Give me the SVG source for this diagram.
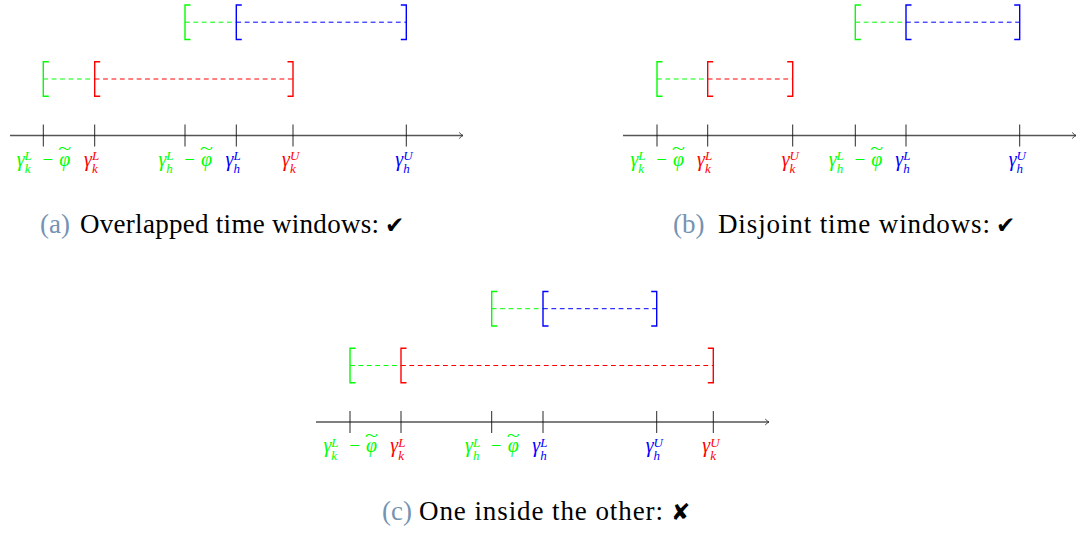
<svg xmlns="http://www.w3.org/2000/svg" xmlns:xlink="http://www.w3.org/1999/xlink" width="1080" height="534" viewBox="0 0 1080 534">
<style>
  .bk{fill:none;stroke-width:1.4}
  .ds{fill:none;stroke-width:1;stroke-dasharray:4.8 3.6}
  .gd{stroke:#00ff00}
  .rd{stroke:#ff0000}
  .bd{stroke:#0000ff}
  .tg{fill:#00ff00}
  .tr{fill:#ff0000}
  .tb{fill:#0000ff}
  .axis{stroke:#555;stroke-width:1.3;fill:none}
  .tick{stroke:#111;stroke-width:0.9}
  .lab{font-family:"Liberation Serif","DejaVu Serif",serif;font-style:italic;font-size:20px}
  .s{font-size:13px}
  .up{font-style:normal;font-size:19px}
  .mid{text-anchor:middle}
  .til{font-style:normal;font-size:16px}
  .cap{font-family:"Liberation Serif","DejaVu Serif",serif;font-size:27px;fill:#000}
  .cl{fill:#7593b2}
  .mk{font-family:"DejaVu Sans",sans-serif;font-size:23px;fill:#000}
</style>
<defs>
  <path id="lb" d="M5.5,0 H0 V34.5 H5.5" class="bk"/>
  <path id="rb" d="M-5.5,0 H0 V34.5 H-5.5" class="bk"/>
  <marker id="arr" markerWidth="8" markerHeight="8" refX="6" refY="4" orient="auto" markerUnits="userSpaceOnUse">
    <path d="M2.2,1 Q4.5,3.4 6,4 Q4.5,4.6 2.2,7" fill="none" stroke="#333" stroke-width="0.9"/>
  </marker>
</defs>

<!-- Panel (a) -->
<g id="panel-a">
  <g id="a-windows">
    <g id="a-win-h">
      <line class="ds gd" x1="185" y1="22.2" x2="236.3" y2="22.2"/>
      <line class="ds bd" x1="236.3" y1="22.2" x2="406.3" y2="22.2"/>
      <use xlink:href="#lb" x="185" y="5" stroke="#00ff00"/>
      <use xlink:href="#lb" x="236.3" y="5" stroke="#0000ff"/>
      <use xlink:href="#rb" x="406.3" y="5" stroke="#0000ff"/>
    </g>
    <g id="a-win-k">
      <line class="ds gd" x1="43.3" y1="79" x2="94.7" y2="79"/>
      <line class="ds rd" x1="94.7" y1="79" x2="293" y2="79"/>
      <use xlink:href="#lb" x="43.3" y="61.7" stroke="#00ff00"/>
      <use xlink:href="#lb" x="94.7" y="61.7" stroke="#ff0000"/>
      <use xlink:href="#rb" x="293" y="61.7" stroke="#ff0000"/>
    </g>
  </g>
  <g id="a-axis">
    <line class="axis" x1="10" y1="135.5" x2="463" y2="135.5" marker-end="url(#arr)"/>
    <g class="tick">
      <line x1="43.3" y1="124.5" x2="43.3" y2="146.5"/>
      <line x1="94.7" y1="124.5" x2="94.7" y2="146.5"/>
      <line x1="185" y1="124.5" x2="185" y2="146.5"/>
      <line x1="236.3" y1="124.5" x2="236.3" y2="146.5"/>
      <line x1="293" y1="124.5" x2="293" y2="146.5"/>
      <line x1="406.3" y1="124.5" x2="406.3" y2="146.5"/>
    </g>
  </g>
  <g id="a-labels">
    <g class="tg">
      <text class="lab" x="16.7" y="165.5">γ<tspan class="s" dy="-5.5">L</tspan><tspan class="s" dx="-7.2" dy="13">k</tspan></text>
      <text class="lab up mid" x="47.8" y="165.5">−</text>
      <text class="lab mid" x="64.8" y="165.5">φ<tspan class="til" x="64.8" y="154" textLength="13" lengthAdjust="spacingAndGlyphs">~</tspan></text>
    </g>
    <text class="lab tr" x="84" y="165.5">γ<tspan class="s" dy="-5.5">L</tspan><tspan class="s" dx="-7.2" dy="13">k</tspan></text>
    <g class="tg">
      <text class="lab" x="158.4" y="165.5">γ<tspan class="s" dy="-5.5">L</tspan><tspan class="s" dx="-7.2" dy="13">h</tspan></text>
      <text class="lab up mid" x="189.5" y="165.5">−</text>
      <text class="lab mid" x="206.5" y="165.5">φ<tspan class="til" x="206.5" y="154" textLength="13" lengthAdjust="spacingAndGlyphs">~</tspan></text>
    </g>
    <text class="lab tb" x="225.6" y="165.5">γ<tspan class="s" dy="-5.5">L</tspan><tspan class="s" dx="-7.2" dy="13">h</tspan></text>
    <text class="lab tr" x="282" y="165.5">γ<tspan class="s" dy="-5.5">U</tspan><tspan class="s" dx="-9.4" dy="13">k</tspan></text>
    <text class="lab tb" x="395.3" y="165.5">γ<tspan class="s" dy="-5.5">U</tspan><tspan class="s" dx="-9.4" dy="13">h</tspan></text>
  </g>
  <g id="a-caption">
    <text class="cap cl" x="40" y="233">(a)</text>
    <text class="cap" x="80" y="233" textLength="299" lengthAdjust="spacing">Overlapped time windows:</text>
    <text class="mk" x="385" y="233">✔</text>
  </g>
</g>

<!-- Panel (b) -->
<g id="panel-b">
  <g id="b-windows">
    <g id="b-win-h">
      <line class="ds gd" x1="855.3" y1="22.2" x2="906" y2="22.2"/>
      <line class="ds bd" x1="906" y1="22.2" x2="1019.7" y2="22.2"/>
      <use xlink:href="#lb" x="855.3" y="5" stroke="#00ff00"/>
      <use xlink:href="#lb" x="906" y="5" stroke="#0000ff"/>
      <use xlink:href="#rb" x="1019.7" y="5" stroke="#0000ff"/>
    </g>
    <g id="b-win-k">
      <line class="ds gd" x1="657" y1="79" x2="707.7" y2="79"/>
      <line class="ds rd" x1="707.7" y1="79" x2="792.7" y2="79"/>
      <use xlink:href="#lb" x="657" y="61.7" stroke="#00ff00"/>
      <use xlink:href="#lb" x="707.7" y="61.7" stroke="#ff0000"/>
      <use xlink:href="#rb" x="792.7" y="61.7" stroke="#ff0000"/>
    </g>
  </g>
  <g id="b-axis">
    <line class="axis" x1="623" y1="135.5" x2="1076" y2="135.5" marker-end="url(#arr)"/>
    <g class="tick">
      <line x1="657" y1="124.5" x2="657" y2="146.5"/>
      <line x1="707.7" y1="124.5" x2="707.7" y2="146.5"/>
      <line x1="792.7" y1="124.5" x2="792.7" y2="146.5"/>
      <line x1="855.3" y1="124.5" x2="855.3" y2="146.5"/>
      <line x1="906" y1="124.5" x2="906" y2="146.5"/>
      <line x1="1019.7" y1="124.5" x2="1019.7" y2="146.5"/>
    </g>
  </g>
  <g id="b-labels">
    <g class="tg">
      <text class="lab" x="630.4" y="165.5">γ<tspan class="s" dy="-5.5">L</tspan><tspan class="s" dx="-7.2" dy="13">k</tspan></text>
      <text class="lab up mid" x="661.5" y="165.5">−</text>
      <text class="lab mid" x="678.5" y="165.5">φ<tspan class="til" x="678.5" y="154" textLength="13" lengthAdjust="spacingAndGlyphs">~</tspan></text>
    </g>
    <text class="lab tr" x="697" y="165.5">γ<tspan class="s" dy="-5.5">L</tspan><tspan class="s" dx="-7.2" dy="13">k</tspan></text>
    <text class="lab tr" x="781.7" y="165.5">γ<tspan class="s" dy="-5.5">U</tspan><tspan class="s" dx="-9.4" dy="13">k</tspan></text>
    <g class="tg">
      <text class="lab" x="828.7" y="165.5">γ<tspan class="s" dy="-5.5">L</tspan><tspan class="s" dx="-7.2" dy="13">h</tspan></text>
      <text class="lab up mid" x="859.8" y="165.5">−</text>
      <text class="lab mid" x="876.8" y="165.5">φ<tspan class="til" x="876.8" y="154" textLength="13" lengthAdjust="spacingAndGlyphs">~</tspan></text>
    </g>
    <text class="lab tb" x="895.3" y="165.5">γ<tspan class="s" dy="-5.5">L</tspan><tspan class="s" dx="-7.2" dy="13">h</tspan></text>
    <text class="lab tb" x="1008.7" y="165.5">γ<tspan class="s" dy="-5.5">U</tspan><tspan class="s" dx="-9.4" dy="13">h</tspan></text>
  </g>
  <g id="b-caption">
    <text class="cap cl" x="673" y="233">(b)</text>
    <text class="cap" x="718" y="233" textLength="272" lengthAdjust="spacing">Disjoint time windows:</text>
    <text class="mk" x="996" y="233">✔</text>
  </g>
</g>

<!-- Panel (c) -->
<g id="panel-c">
  <g id="c-windows">
    <g id="c-win-h">
      <line class="ds gd" x1="491.7" y1="308.7" x2="543" y2="308.7"/>
      <line class="ds bd" x1="543" y1="308.7" x2="656.7" y2="308.7"/>
      <use xlink:href="#lb" x="491.7" y="291.5" stroke="#00ff00"/>
      <use xlink:href="#lb" x="543" y="291.5" stroke="#0000ff"/>
      <use xlink:href="#rb" x="656.7" y="291.5" stroke="#0000ff"/>
    </g>
    <g id="c-win-k">
      <line class="ds gd" x1="350" y1="365.5" x2="401" y2="365.5"/>
      <line class="ds rd" x1="401" y1="365.5" x2="713.3" y2="365.5"/>
      <use xlink:href="#lb" x="350" y="348.2" stroke="#00ff00"/>
      <use xlink:href="#lb" x="401" y="348.2" stroke="#ff0000"/>
      <use xlink:href="#rb" x="713.3" y="348.2" stroke="#ff0000"/>
    </g>
  </g>
  <g id="c-axis">
    <line class="axis" x1="316" y1="422" x2="769" y2="422" marker-end="url(#arr)"/>
    <g class="tick">
      <line x1="350" y1="411" x2="350" y2="433"/>
      <line x1="401" y1="411" x2="401" y2="433"/>
      <line x1="491.7" y1="411" x2="491.7" y2="433"/>
      <line x1="543" y1="411" x2="543" y2="433"/>
      <line x1="656.7" y1="411" x2="656.7" y2="433"/>
      <line x1="713.3" y1="411" x2="713.3" y2="433"/>
    </g>
  </g>
  <g id="c-labels">
    <g class="tg">
      <text class="lab" x="323.4" y="452">γ<tspan class="s" dy="-5.5">L</tspan><tspan class="s" dx="-7.2" dy="13">k</tspan></text>
      <text class="lab up mid" x="354.5" y="452">−</text>
      <text class="lab mid" x="371.5" y="452">φ<tspan class="til" x="371.5" y="440.5" textLength="13" lengthAdjust="spacingAndGlyphs">~</tspan></text>
    </g>
    <text class="lab tr" x="390.3" y="452">γ<tspan class="s" dy="-5.5">L</tspan><tspan class="s" dx="-7.2" dy="13">k</tspan></text>
    <g class="tg">
      <text class="lab" x="465.1" y="452">γ<tspan class="s" dy="-5.5">L</tspan><tspan class="s" dx="-7.2" dy="13">h</tspan></text>
      <text class="lab up mid" x="496.2" y="452">−</text>
      <text class="lab mid" x="513.2" y="452">φ<tspan class="til" x="513.2" y="440.5" textLength="13" lengthAdjust="spacingAndGlyphs">~</tspan></text>
    </g>
    <text class="lab tb" x="532.3" y="452">γ<tspan class="s" dy="-5.5">L</tspan><tspan class="s" dx="-7.2" dy="13">h</tspan></text>
    <text class="lab tb" x="645.7" y="452">γ<tspan class="s" dy="-5.5">U</tspan><tspan class="s" dx="-9.4" dy="13">h</tspan></text>
    <text class="lab tr" x="702.3" y="452">γ<tspan class="s" dy="-5.5">U</tspan><tspan class="s" dx="-9.4" dy="13">k</tspan></text>
  </g>
  <g id="c-caption">
    <text class="cap cl" x="382" y="520">(c)</text>
    <text class="cap" x="419" y="520" textLength="244" lengthAdjust="spacing">One inside the other:</text>
    <text class="mk" x="671" y="520">✘</text>
  </g>
</g>
</svg>
